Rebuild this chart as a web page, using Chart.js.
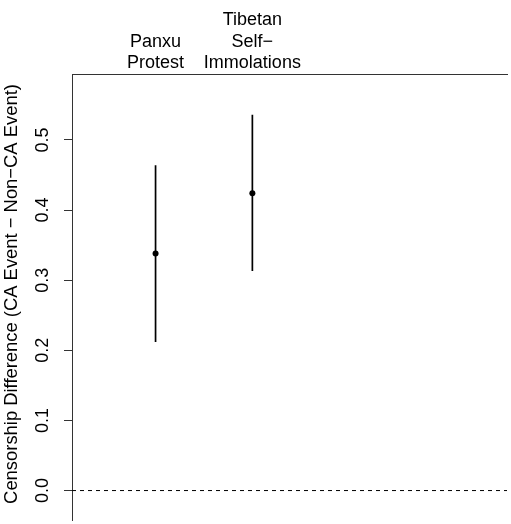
<!DOCTYPE html>
<html><head><meta charset="utf-8">
<script src="https://cdn.jsdelivr.net/npm/chart.js@4/dist/chart.umd.min.js"></script>
<style>html,body{margin:0;padding:0;background:#fff;overflow:hidden}</style>
</head><body>
<canvas id="c" width="511" height="524"></canvas>
<script>
// ---- data ----
const categories = [["Panxu", "Protest"], ["Tibetan", "Self\u2212", "Immolations"]];
const positions = [1, 2];
const estimates = [0.338, 0.424];
const lower = [0.212, 0.313];
const upper = [0.464, 0.536];
const yTicks = [0, 0.1, 0.2, 0.3, 0.4, 0.5];
const yTickLabels = ["0.0", "0.1", "0.2", "0.3", "0.4", "0.5"];
const refValue = 0;
const yTitle = "Censorship Difference (CA Event \u2212 Non\u2212CA Event)";

// ---- view ----
const X_MIN = 0.137, X_MAX = 4.63;
const Y_MIN = -0.042, Y_MAX = 0.594;
const FONT = "'Liberation Sans', Arial, Helvetica, sans-serif";
const FS = 18;

const errData = [];
positions.forEach((p, i) => {
  errData.push({x: p, y: lower[i]}, {x: p, y: upper[i]}, {x: p, y: null});
});
const ptData = positions.map((p, i) => ({x: p, y: estimates[i]}));
const refData = [{x: X_MIN, y: refValue}, {x: X_MAX, y: refValue}];

const textPlugin = {
  id: 'rtext',
  afterDraw(chart) {
    const ctx = chart.ctx, ys = chart.scales.y;
    ctx.save();
    ctx.fillStyle = '#000';
    ctx.font = FS + 'px ' + FONT;
    ctx.textAlign = 'center';
    ctx.textBaseline = 'middle';
    ys.ticks.forEach((t, i) => {
      const py = ys.getPixelForValue(t.value);
      ctx.save();
      ctx.translate(43.5, py);
      ctx.rotate(-Math.PI / 2);
      ctx.fillText(yTickLabels[i], 0, 0);
      ctx.restore();
    });
    ctx.font = '18.4px ' + FONT;
    ctx.save();
    ctx.translate(11.5, 294);
    ctx.rotate(-Math.PI / 2);
    ctx.fillText(yTitle, 0, 0);
    ctx.restore();
    ctx.restore();
  }
};

new Chart(document.getElementById('c'), {
  type: 'scatter',
  data: {
    datasets: [
      {data: refData, showLine: true, borderColor: '#000', borderWidth: 1, borderDash: [4, 4], pointRadius: 0, fill: false},
      {data: errData, showLine: true, spanGaps: false, borderColor: '#000', borderWidth: 1.7, pointRadius: 0, fill: false},
      {data: ptData, showLine: false, pointRadius: 3, pointBackgroundColor: '#000', pointBorderColor: '#000', pointBorderWidth: 0}
    ]
  },
  plugins: [textPlugin],
  options: {
    responsive: false,
    animation: false,
    layout: {padding: 0},
    plugins: {legend: {display: false}, tooltip: {enabled: false}},
    scales: {
      x: {
        type: 'linear', position: 'top', min: X_MIN, max: X_MAX,
        afterBuildTicks: s => { s.ticks = positions.map(v => ({value: v})); },
        afterFit: s => { s.height = 74; },
        grid: {display: false, drawTicks: false},
        border: {display: true, color: '#333', width: 1},
        ticks: {
          padding: 0, color: '#000', font: {family: FONT, size: FS, lineHeight: 1.2},
          maxRotation: 0, minRotation: 0, autoSkip: false,
          callback: (v, i) => categories[i]
        }
      },
      y: {
        type: 'linear', min: Y_MIN, max: Y_MAX,
        afterBuildTicks: s => { s.ticks = yTicks.map(v => ({value: v})); },
        afterFit: s => { s.width = 72; },
        grid: {display: true, drawOnChartArea: false, drawTicks: true, tickLength: 8, color: '#333', lineWidth: 1},
        border: {display: true, color: '#333', width: 1},
        ticks: {display: false}
      }
    }
  }
});
</script>
</body></html>
